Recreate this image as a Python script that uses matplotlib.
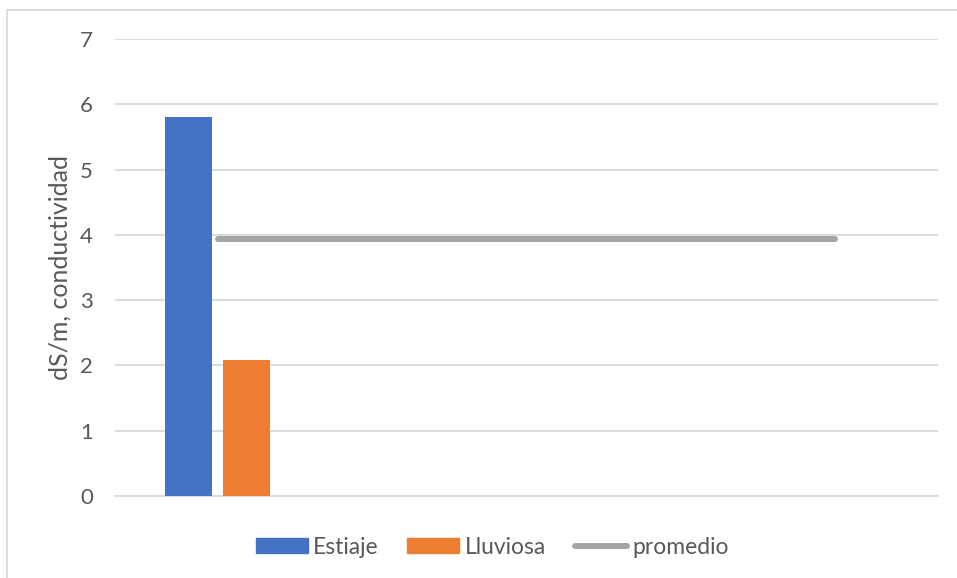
import matplotlib
matplotlib.use("Agg")
import matplotlib.pyplot as plt
from matplotlib.lines import Line2D
from matplotlib.patches import Patch

plt.rcParams['font.family'] = ['Lato', 'DejaVu Sans']

# Data
categories = ['', '', '', '']
estiaje = [5.8]
lluviosa = [2.08]
promedio = [3.94, 3.94, 3.94, 3.94]
yticks = [0, 1, 2, 3, 4, 5, 6, 7]

blue = '#4472C4'
orange = '#ED7D31'
gray = '#A5A5A5'
txt = '#595959'
grid = '#D9D9D9'

fig = plt.figure(figsize=(9.57, 5.78), dpi=100)
W, H = 957, 578
ax = fig.add_axes([115 / W, 1 - 496 / H, (938 - 115) / W, (496 - 39) / H])

n = len(categories)
x = list(range(n))
bw = 0.228
off = 0.141
ax.bar([xi - off for xi in x[:len(estiaje)]], estiaje, width=bw, color=blue, zorder=3)
ax.bar([xi + off for xi in x[:len(lluviosa)]], lluviosa, width=bw, color=orange, zorder=3)
ax.plot(x, promedio, color=gray, lw=4.3, solid_capstyle='round', zorder=4)

ax.set_xlim(-0.5, n - 0.5)
ax.set_ylim(0, 7)
ax.set_yticks(yticks)
ax.set_yticklabels([str(v) for v in yticks])
ax.set_xticks([])
ax.yaxis.grid(True, color=grid, lw=1.3, zorder=0)
ax.set_axisbelow(True)
for s in ['top', 'right', 'left']:
    ax.spines[s].set_visible(False)
ax.spines['bottom'].set_color(grid)
ax.spines['bottom'].set_linewidth(1.3)
ax.tick_params(axis='y', length=0, pad=16, labelsize=16, labelcolor=txt)
ax.set_ylabel('dS/m, conductividad', fontsize=18, color=txt, labelpad=6)

# outer chart border (only top and left visible)
fig.add_artist(Line2D([7 / W, 7 / W], [0, 1 - 10 / H], color=grid, lw=1.3, transform=fig.transFigure))
fig.add_artist(Line2D([7 / W, 1], [1 - 10 / H, 1 - 10 / H], color=grid, lw=1.3, transform=fig.transFigure))

handles = [Patch(color=blue), Patch(color=orange),
           Line2D([0], [0], color=gray, lw=4.3, solid_capstyle='round')]
labels = ['Estiaje', 'Lluviosa', 'promedio']
leg = fig.legend(handles, labels, loc='center', bbox_to_anchor=(492 / W, 1 - 547 / H),
                 ncol=3, frameon=False, fontsize=16.5, handlelength=2.27, handleheight=0.61,
                 handletextpad=0.22, columnspacing=1.27)
for t in leg.get_texts():
    t.set_color(txt)

fig.savefig('out.png', dpi=100)
